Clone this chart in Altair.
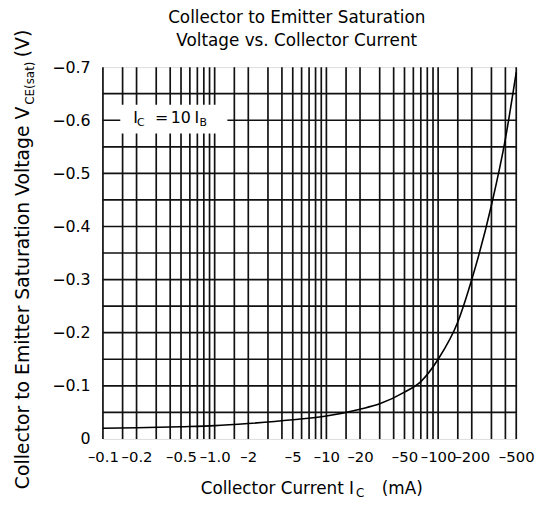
import altair as alt
import pandas as pd

# ---- data ----
current_ma = [0.1, 0.2, 0.5, 1, 2, 5, 10, 20, 30, 50, 70, 100, 150, 200, 300, 400, 500]
vce_sat = [0.020, 0.021, 0.023, 0.025, 0.029, 0.036, 0.043, 0.056, 0.066, 0.088,
           0.108, 0.150, 0.220, 0.300, 0.440, 0.565, 0.690]

x_grid = [0.1, 0.15, 0.2, 0.3, 0.4, 0.5, 0.6, 0.7, 0.8, 0.9,
          1, 1.5, 2, 3, 4, 5, 6, 7, 8, 9,
          10, 15, 20, 30, 40, 50, 60, 70, 80, 90,
          100, 150, 200, 300, 400, 500]
y_grid = [0.05, 0.10, 0.15, 0.20, 0.25, 0.30, 0.35, 0.40, 0.45, 0.50, 0.55, 0.60, 0.65]

x_ticks = [0.1, 0.2, 0.5, 1, 2, 5, 10, 20, 50, 100, 200, 500]
y_ticks = [0, 0.1, 0.2, 0.3, 0.4, 0.5, 0.6, 0.7]

title_lines = ["Collector to Emitter Saturation", "Voltage vs. Collector Current"]
note_box_x = [0.143, 1.3]
note_box_y = [0.575, 0.629]
note_anchor_x = [0.143]
note_anchor_y = [0.605]

FONT = "DejaVu Sans"
W, H = 418, 376

xs = alt.Scale(type="log", domain=[0.1, 500], nice=False)
ys = alt.Scale(domain=[0, 0.7], nice=False)

xaxis = alt.Axis(values=x_ticks, title=None, grid=False, ticks=False, domain=False,
                 labelExpr="datum.value == 1 ? '\u20131.0' : '\u2013' + datum.value",
                 labelPadding=11, labelFontSize=15, labelFont=FONT, labelColor="black",
                 labelOverlap=False, labelFlush=False, labelBaseline="top")
yaxis = alt.Axis(values=y_ticks, title=None, grid=False, ticks=False, domain=False,
                 labelExpr="datum.value == 0 ? '0' : '\u2212' + format(datum.value, '.1f')",
                 labelPadding=13, labelFontSize=16, labelFont=FONT, labelColor="black",
                 labelOverlap=False, labelFlush=False)

X = lambda f: alt.X(f, type="quantitative", scale=xs, axis=xaxis)
Y = lambda f: alt.Y(f, type="quantitative", scale=ys, axis=yaxis)

grid_color = "#111111"
vgrid = alt.Chart(pd.DataFrame({"gx": x_grid})).mark_rule(
    color=grid_color, strokeWidth=1.7).encode(x=X("gx"))
hgrid = alt.Chart(pd.DataFrame({"gy": y_grid})).mark_rule(
    color=grid_color, strokeWidth=1.7).encode(y=Y("gy"))

curve = alt.Chart(pd.DataFrame({"I": current_ma, "V": vce_sat})).mark_line(
    color="black", strokeWidth=1.6, interpolate="monotone").encode(x=X("I"), y=Y("V"))

box = alt.Chart(pd.DataFrame({"x1": [note_box_x[0]], "x2": [note_box_x[1]],
                              "y1": [note_box_y[0]], "y2": [note_box_y[1]]})).mark_rect(
    color="white").encode(x=X("x1"), x2="x2", y=Y("y1"), y2="y2")

anchor = pd.DataFrame({"ax": note_anchor_x, "ay": note_anchor_y})


def note_piece(text, dx, dy, size):
    return alt.Chart(anchor).mark_text(
        text=text, font=FONT, fontSize=size, align="left", baseline="middle",
        dx=dx, dy=dy, color="black").encode(x=X("ax"), y=Y("ay"))


note = [note_piece("I", 13, 0, 16), note_piece("C", 17, 5, 11),
        note_piece("=", 35, 0, 16), note_piece("10", 51, 0, 16),
        note_piece("I", 75, 0, 16), note_piece("B", 80, 5, 11)]


def label(text, x, y, size=17, align="center", angle=0):
    return alt.Chart(pd.DataFrame({"t": [text]})).mark_text(
        font=FONT, fontSize=size, align=align, baseline="middle", angle=angle,
        color="black").encode(x=alt.value(x), y=alt.value(y), text="t:N")


titles = [label(title_lines[0], 196, -50), label(title_lines[1], 196, -26)]

xtitle = [label("Collector Current  I", 254, 427, align="right"),
          label("C", 256, 431, size=12, align="left"),
          label("(mA)", 282, 427, align="left")]

ytitle = [label("Collector to Emitter Saturation Voltage  V", -81, 40, size=19, align="right", angle=270),
          label("CE(sat)", -74, 38, size=12, align="left", angle=270),
          label("(V)", -81, -10, size=19, align="left", angle=270)]

chart = alt.layer(vgrid, hgrid, curve, box, *note, *titles, *xtitle, *ytitle).properties(
    width=W, height=H,
    autosize=alt.AutoSizeParams(type="none"),
    padding={"left": 96, "top": 57, "right": 20, "bottom": 63},
).configure_view(stroke="black", strokeWidth=1.8).configure(background="white")

chart.save("out.html", embed_options={"renderer": "svg", "actions": False})
